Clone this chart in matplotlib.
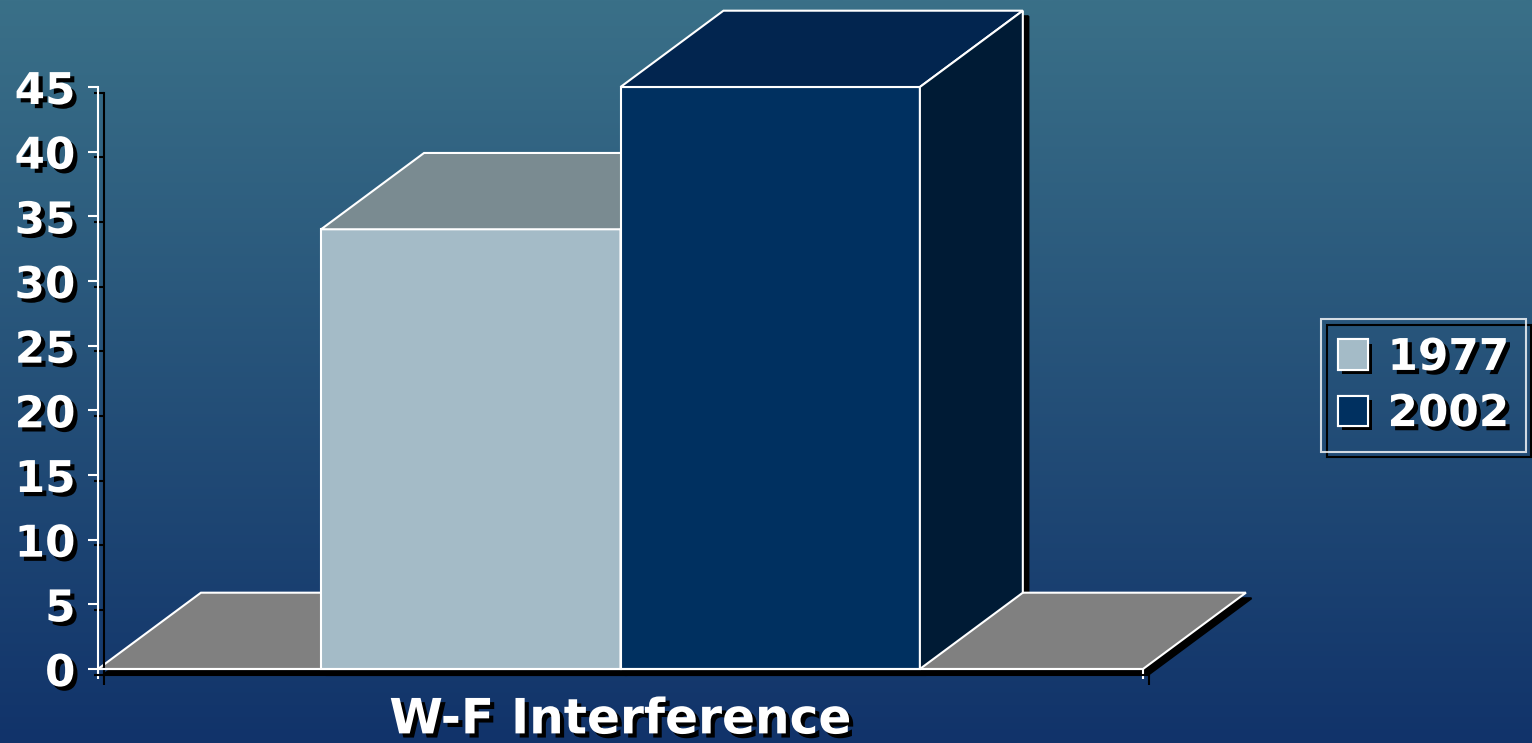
import numpy as np
import matplotlib.pyplot as plt
import matplotlib.patheffects as pe
from matplotlib.colors import LinearSegmentedColormap
from matplotlib.patches import Polygon, Patch
from matplotlib.transforms import ScaledTranslation

# ---- data ----
categories = ['W-F Interference']
years = ['1977', '2002']
values = [34, 45]
yticks = [0, 5, 10, 15, 20, 25, 30, 35, 40, 45]

# face colours per series: front, top, side
front_cols = ['#a4bbc7', '#003060']
top_cols = ['#7a8b91', '#02254f']
side_cols = ['#6f7f86', '#001b35']
floor_col = '#808080'

bar_w = 0.2865          # width of one bar in category units
dx, dy = 0.0985, 5.9    # 3d depth offset (x units, y units)
fs = 31.5

fig = plt.figure(figsize=(15.32, 7.43), dpi=100)

# background gradient
bg = fig.add_axes([0, 0, 1, 1], zorder=-10)
grad = np.linspace(0, 1, 256).reshape(-1, 1)
cmap = LinearSegmentedColormap.from_list('bg', ['#11336a', '#3a7088'])
bg.imshow(grad, aspect='auto', cmap=cmap, origin='lower', extent=[0, 1, 0, 1])
bg.set_axis_off()

ax = fig.add_axes([98 / 1532, 74 / 743, 1045 / 1532, 582 / 743])
ax.patch.set_visible(False)
ax.set_xlim(-0.5, 0.5)
ax.set_ylim(0, 45)

shadow_tr = ax.transData + ScaledTranslation(4 / 72, -4 / 72, fig.dpi_scale_trans)
line_fx = [pe.SimpleLineShadow(offset=(4, -4), shadow_color='k', alpha=1), pe.Normal()]
text_fx = [pe.withSimplePatchShadow(offset=(3, -3), shadow_rgbFace='k', alpha=1)]


def add_face(pts, color, z):
    # shadow copy first, then the face itself
    ax.add_patch(Polygon(pts, closed=True, facecolor='k', edgecolor='k', lw=1.5,
                         transform=shadow_tr, zorder=1, clip_on=False))
    ax.add_patch(Polygon(pts, closed=True, facecolor=color, edgecolor='white', lw=1.5,
                         zorder=z, clip_on=False, joinstyle='miter'))


# floor
x0, x1 = ax.get_xlim()
add_face([(x0, 0), (x0 + dx, dy), (x1 + dx, dy), (x1, 0)], floor_col, 2)

# bars, front / top / side
for i, v in enumerate(values):
    left = (i - 1) * bar_w
    right = left + bar_w
    z = 3 + i
    add_face([(left, 0), (left, v), (right, v), (right, 0)], front_cols[i], z)
    add_face([(left, v), (left + dx, v + dy), (right + dx, v + dy), (right, v)], top_cols[i], z)
    add_face([(right, 0), (right + dx, dy), (right + dx, v + dy), (right, v)], side_cols[i], z)

# axes lines
for s in ['top', 'right']:
    ax.spines[s].set_visible(False)
for s in ['left', 'bottom']:
    ax.spines[s].set_color('white')
    ax.spines[s].set_linewidth(1.5)
    ax.spines[s].set_path_effects(line_fx)
    ax.spines[s].set_zorder(6)

ax.set_yticks(yticks)
ax.set_yticklabels([str(t) for t in yticks])
ax.set_xticks([x0, x1])
ax.set_xticklabels(['', ''])
ax.set_xticks([0], labels=categories, minor=True)
ax.tick_params(which='major', length=7.2, width=1.5, color='white', direction='out')
ax.tick_params(axis='y', pad=9)
ax.tick_params(axis='x', which='minor', length=0, pad=19)

for t in ax.yaxis.get_major_ticks() + ax.xaxis.get_major_ticks():
    t.tick1line.set_path_effects(line_fx)
for lbl in ax.get_yticklabels() + ax.get_xticklabels(minor=True):
    lbl.set_fontsize(fs)
    lbl.set_fontweight('bold')
    lbl.set_family('DejaVu Sans')
    lbl.set_color('white')
    lbl.set_path_effects(text_fx)
for lbl in ax.get_xticklabels(minor=True):
    lbl.set_fontsize(35)

# legend
handles = [Patch(facecolor=front_cols[i], edgecolor='white', lw=1.5) for i in range(len(years))]
leg = fig.legend(handles, years, loc='center left', bbox_to_anchor=(1321 / 1532, 1 - 385.5 / 743),
                 bbox_transform=fig.transFigure, borderaxespad=0, fancybox=False,
                 prop={'family': 'DejaVu Sans', 'weight': 'bold', 'size': fs},
                 handlelength=0.69, handleheight=0.69, handletextpad=0.45,
                 labelspacing=0.3, borderpad=0.38)
frame = leg.get_frame()
frame.set_facecolor('none')
frame.set_edgecolor('white')
frame.set_linewidth(1.5)
frame.set_path_effects(line_fx)
for p in leg.get_patches():
    p.set_path_effects([pe.withSimplePatchShadow(offset=(3, -3), shadow_rgbFace='k', alpha=1), pe.Normal()])
for t in leg.get_texts():
    t.set_color('white')
    t.set_path_effects(text_fx)

fig.savefig('out.png', dpi=100)
